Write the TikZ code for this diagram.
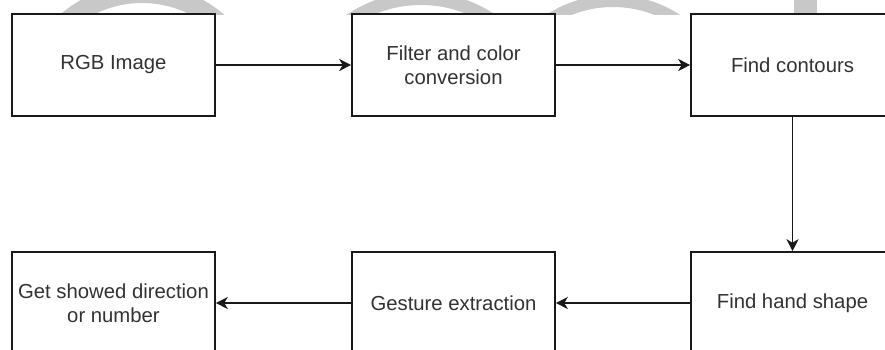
\documentclass[tikz,border=0pt]{standalone}
\usepackage{fontspec}
\setmainfont{Liberation Sans}
\usetikzlibrary{arrows.meta}
\definecolor{inkline}{RGB}{25,25,25}
\definecolor{inktext}{RGB}{50,50,50}
\definecolor{markgray}{RGB}{200,200,200}
\tikzset{
  stepbox/.style={draw=inkline, line width=1.6pt, fill=white,
    minimum width=203pt, minimum height=102pt, inner sep=0pt,
    align=center, text=inktext,
    font=\fontsize{20.3pt}{24pt}\selectfont},
  flow/.style={draw=inkline, line width=1.5pt,
    -{Stealth[length=12pt,width=12pt,inset=3.5pt]}}
}
\begin{document}
\begin{tikzpicture}[x=1pt,y=-1pt]
  \useasboundingbox (0,0) rectangle (885,349);
  \clip (0,0) rectangle (885,349);

  % faint lettering strip along the top edge
  \begin{scope}
    \clip (0,0) rectangle (885,14);
    \fill[markgray, even odd rule] (142,109) circle[radius=125] (142,109) circle[radius=106];
    \fill[markgray, even odd rule] (421,125) circle[radius=133] (421,125) circle[radius=120];
    \fill[markgray, even odd rule] (613,118) circle[radius=123] (613,118) circle[radius=111];
    \fill[markgray] (794,0) rectangle (817,14);
  \end{scope}

  % processing steps
  \node[stepbox] (rgb)     at (113.5,65)  {RGB Image};
  \node[stepbox] (filter)  at (453.5,65)  {Filter and color\\conversion};
  \node[stepbox] (contour) at (792.5,65)  {Find contours};
  \node[stepbox] (hand)    at (792.5,303) {Find hand shape};
  \node[stepbox] (gesture) at (453.5,303) {Gesture extraction};
  \node[stepbox] (result)  at (113.5,303) {Get showed direction\\or number};

  % connectors
  \draw[flow] (rgb) -- (filter);
  \draw[flow] (filter) -- (contour);
  \draw[flow] (contour) -- (hand);
  \draw[flow] (hand) -- (gesture);
  \draw[flow] (gesture) -- (result);
\end{tikzpicture}
\end{document}
